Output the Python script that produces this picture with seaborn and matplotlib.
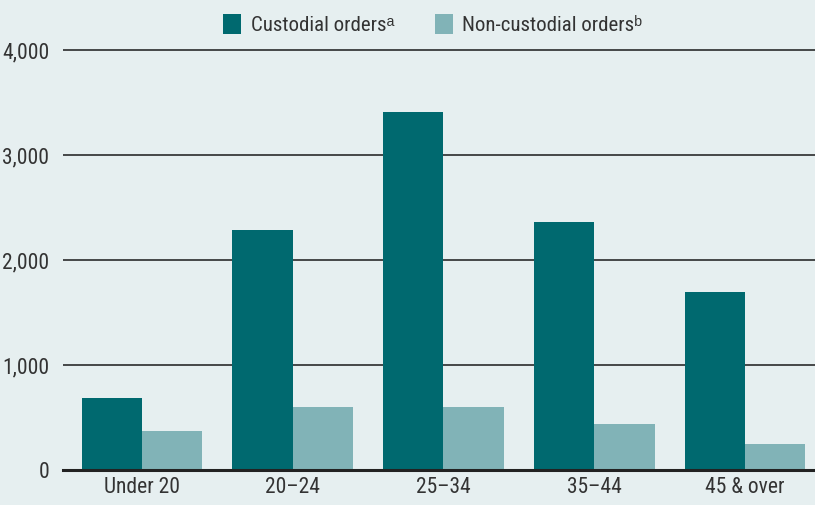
import pandas as pd
import matplotlib.pyplot as plt
import seaborn as sns
from matplotlib.patches import Patch

# data
age_groups = ['Under 20', '20–24', '25–34', '35–44', '45 & over']
custodial = [690, 2285, 3410, 2360, 1695]
non_custodial = [370, 600, 600, 440, 250]

series_names = ['Custodial ordersᵃ', 'Non-custodial ordersᵇ']
colors = ['#00696f', '#81b3b7']
bg = '#e6eff0'

df = pd.DataFrame({
    'age': age_groups * 2,
    'count': custodial + non_custodial,
    'order': [series_names[0]] * 5 + [series_names[1]] * 5,
})

sns.set_theme(style='white')
plt.rcParams['font.family'] = ['Roboto Condensed', 'Liberation Sans Narrow',
                               'Liberation Sans', 'DejaVu Sans']

fig = plt.figure(figsize=(8.15, 5.05), dpi=100, facecolor=bg)
ax = fig.add_axes([0.0773, 0.0693, 0.9227, 0.8359])
ax.set_facecolor(bg)

sns.barplot(data=df, x='age', y='count', hue='order', palette=colors,
            width=0.8, saturation=1, linewidth=0, ax=ax, legend=False, zorder=3)

ax.set_xlim(-0.523, 4.464)
ax.set_ylim(0, 4020)
ax.set_yticks([0, 1000, 2000, 3000, 4000])
ax.set_yticklabels(['0', '1,000', '2,000', '3,000', '4,000'])
ax.yaxis.grid(True, color='#1a1a1a', linewidth=1.1, zorder=0)
ax.set_axisbelow(True)
for s in ['left', 'right', 'top']:
    ax.spines[s].set_visible(False)
ax.spines['bottom'].set_color('#222222')
ax.spines['bottom'].set_linewidth(2.2)
ax.spines['bottom'].set_zorder(4)
ax.tick_params(axis='both', length=0, labelsize=15.5, labelcolor='#333333')
ax.tick_params(axis='y', pad=10)
ax.tick_params(axis='x', pad=5)
ax.set_xlabel('')
ax.set_ylabel('')

handles = [Patch(facecolor=c, edgecolor='none') for c in colors]
fig.legend(handles, series_names, loc='center', bbox_to_anchor=(0.531, 0.951),
           ncol=2, frameon=False, fontsize=15, handlelength=0.85,
           handleheight=1.1, handletextpad=0.45, columnspacing=1.97,
           labelcolor='#333333')

plt.savefig('out.png', dpi=100, facecolor=bg)
